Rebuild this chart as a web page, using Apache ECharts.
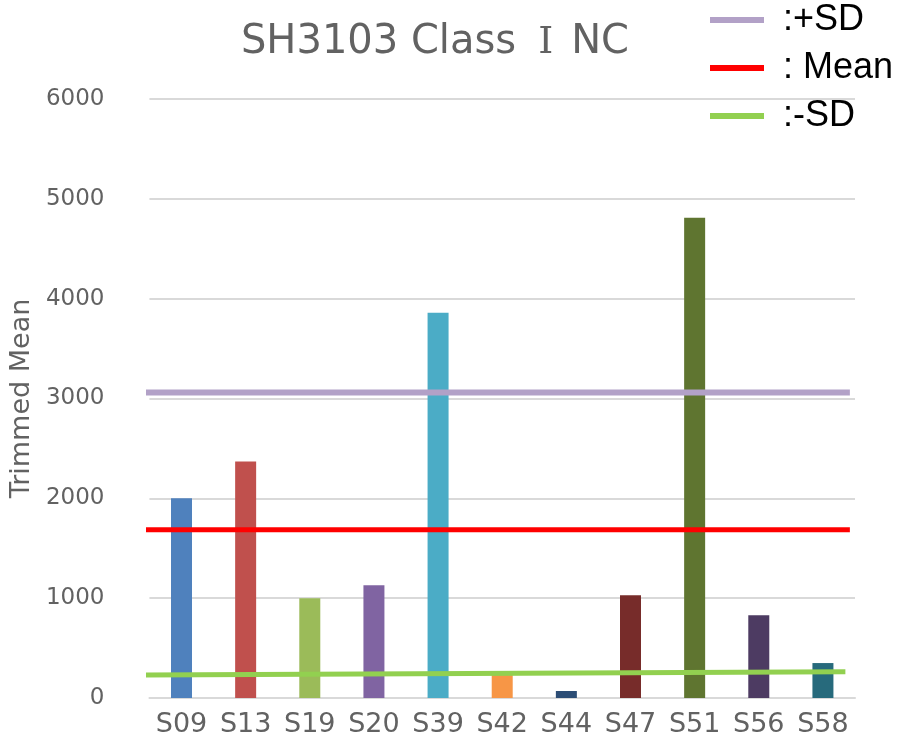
<!DOCTYPE html>
<html>
<head>
<meta charset="utf-8">
<script src="https://cdn.jsdelivr.net/npm/echarts@6/dist/echarts.min.js"></script>
<style>
  html, body { margin: 0; padding: 0; background: #fff; }
  #chart { width: 902px; height: 738px; }
</style>
</head>
<body>
<div id="chart"></div>
<script>
// data
const categories = ['S09', 'S13', 'S19', 'S20', 'S39', 'S42', 'S44', 'S47', 'S51', 'S56', 'S58']
const trimmedMean = [2000, 2370, 1000, 1130, 3860, 250, 70, 1030, 4810, 830, 350]
const barColors = ['#4F81BD', '#C0504D', '#9BBB59', '#8064A2', '#4BACC6', '#F79646',
                   '#2C4D75', '#772C2A', '#5F7530', '#4D3B62', '#276A7C']
const yTicks = [0, 1000, 2000, 3000, 4000, 5000, 6000]

// reference lines: [x in category units, y]
const plusSD = [[-0.15, 3060], [10.92, 3060]]
const meanLine = [[-0.14, 1685], [10.92, 1685]]
const minusSD = [[-0.19, 230], [10.85, 262]]

const font = '"DejaVu Sans", sans-serif'
const serifFont = '"DejaVu Serif", serif'
const legendFont = '"Liberation Sans", Arial, sans-serif'
const textGray = '#626262'

let myChart = echarts.init(document.getElementById('chart'))

function refLine(name, data, color, width) {
    return {
        name: name,
        type: 'line',
        xAxisIndex: 1,
        data: data,
        symbol: 'none',
        clip: false,
        z: 5,
        lineStyle: { color: color, width: width },
        itemStyle: { color: color }
    }
}

myChart.setOption({
    animation: false,
    title: {
        text: '{a|SH3103 Class}{b|Ⅰ}{a|NC}',
        left: 430,
        top: 18,
        textAlign: 'center',
        textStyle: {
            fontWeight: 'normal',
            fontSize: 40,
            rich: {
                a: { fontFamily: font, fontSize: 40, fontWeight: 'normal', color: textGray },
                b: { fontFamily: serifFont, fontSize: 38, fontWeight: 'normal', color: textGray, padding: [0, 18, 0, 22] }
            }
        }
    },
    legend: {
        orient: 'vertical',
        left: 710,
        top: 2,
        padding: 0,
        itemWidth: 54,
        itemHeight: 6,
        itemGap: 12,
        icon: 'rect',
        textStyle: { fontFamily: legendFont, fontSize: 36, color: '#000', padding: [0, 0, 0, 14] },
        data: [':+SD', ': Mean', ':-SD']
    },
    grid: { left: 143, right: 47, top: 99, bottom: 39, containLabel: false },
    xAxis: [
        {
            type: 'category',
            data: categories,
            axisTick: { show: false },
            axisLine: { lineStyle: { color: '#d9d9d9', width: 2 } },
            axisLabel: { fontFamily: font, fontSize: 27, color: textGray, margin: 13, interval: 0 }
        },
        {
            type: 'value',
            min: 0,
            max: categories.length,
            show: false
        }
    ],
    yAxis: {
        type: 'value',
        min: yTicks[0],
        max: yTicks[yTicks.length - 1],
        interval: 1000,
        name: 'Trimmed Mean',
        nameLocation: 'middle',
        nameGap: 97,
        nameTextStyle: { fontFamily: font, fontSize: 27, color: textGray },
        axisLine: { show: false },
        axisTick: { show: false },
        axisLabel: { fontFamily: font, fontSize: 23, color: textGray, margin: 45, formatter: v => String(v) },
        splitLine: { lineStyle: { color: '#d9d9d9', width: 2 } }
    },
    series: [
        {
            type: 'bar',
            barWidth: 21,
            data: trimmedMean.map((v, i) => ({ value: v, itemStyle: { color: barColors[i] } }))
        },
        refLine(':+SD', plusSD, '#B2A1C7', 6),
        refLine(': Mean', meanLine, '#FF0000', 5),
        refLine(':-SD', minusSD, '#92D050', 5)
    ]
})
</script>
</body>
</html>
